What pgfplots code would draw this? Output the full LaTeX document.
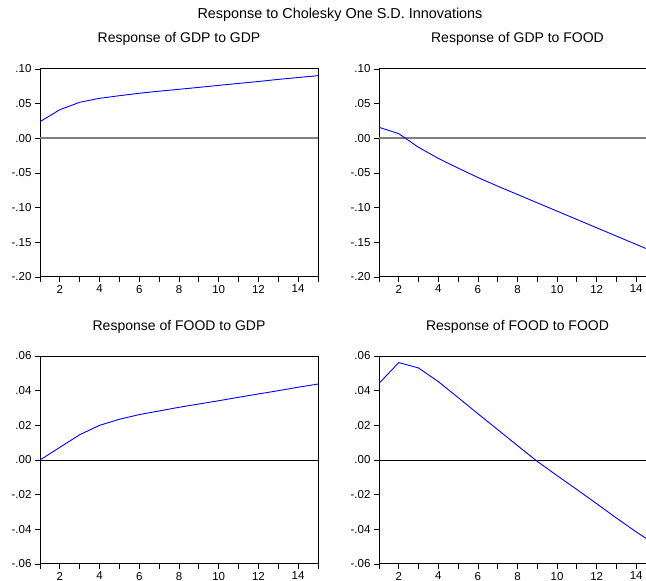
\documentclass[border=0pt]{standalone}
\usepackage{fontspec}
\setmainfont{Liberation Sans}
\usepackage{pgfplots}
\pgfplotsset{compat=1.18}

\definecolor{irfblue}{RGB}{0,0,255}
\definecolor{zerogray}{RGB}{128,128,128}

% common look of the four EViews-style panels
\pgfplotsset{irf/.style={
  scale only axis, width=278pt, height=208pt,
  xmin=1, xmax=15, enlargelimits=false,
  xtick={1,...,15}, xticklabels={,2,,4,,6,,8,,10,,12,,14,},
  scaled y ticks=false,
  tick align=outside, xtick pos=bottom, ytick pos=left,
  major tick length=5pt,
  tick style={black, line width=0.8pt},
  axis line style={black, line width=1pt},
  ticklabel style={font=\fontsize{11.5}{13}\selectfont},
  xticklabel style={yshift=0.5pt},
  title style={at={(0.5,1)}, anchor=base, yshift=20pt,
    font=\fontsize{14}{16}\selectfont},
  clip=true,
}}
\pgfplotsset{gdpy/.style={ymin=-0.2, ymax=0.1,
  ytick={-0.20,-0.15,-0.10,-0.05,0,0.05,0.10},
  yticklabels={-.20,-.15,-.10,-.05,.00,.05,.10}}}
\pgfplotsset{foody/.style={ymin=-0.06, ymax=0.06,
  ytick={-0.06,-0.04,-0.02,0,0.02,0.04,0.06},
  yticklabels={-.06,-.04,-.02,.00,.02,.04,.06}}}

\begin{document}
\begin{tikzpicture}[x=1pt,y=1pt]
\path[use as bounding box] (0,0) rectangle (646,581);
\clip (0,0) rectangle (646,581);

\node[anchor=base, font=\fontsize{14.4}{16}\selectfont] at (340,562)
  {Response to Cholesky One S.D. Innovations};

% GDP to GDP
\begin{axis}[irf, gdpy, at={(40pt,304pt)}, anchor=south west,
  title={Response of GDP to GDP}]
\addplot[zerogray, line width=2pt] coordinates {(1,0) (15,0)};
\addplot[irfblue, line width=0.9pt] coordinates {
  (1,0.0240) (2,0.0413) (3,0.0520) (4,0.0577) (5,0.0615)
  (6,0.0650) (7,0.0680) (8,0.0707) (9,0.0735) (10,0.0764)
  (11,0.0792) (12,0.0820) (13,0.0850) (14,0.0877) (15,0.0904)};
\end{axis}

% GDP to FOOD
\begin{axis}[irf, gdpy, at={(379pt,304pt)}, anchor=south west,
  width=277pt, title={Response of GDP to FOOD}]
\addplot[zerogray, line width=2pt] coordinates {(1,0) (15,0)};
\addplot[irfblue, line width=0.9pt] coordinates {
  (1,0.0159) (2,0.0067) (3,-0.0130) (4,-0.0290) (5,-0.0430)
  (6,-0.0565) (7,-0.0690) (8,-0.0810) (9,-0.0930) (10,-0.1050)
  (11,-0.1170) (12,-0.1290) (13,-0.1410) (14,-0.1530) (15,-0.1650)};
\end{axis}

% FOOD to GDP
\begin{axis}[irf, foody, at={(40pt,17pt)}, anchor=south west,
  title={Response of FOOD to GDP}]
\addplot[black, line width=1pt] coordinates {(1,0) (15,0)};
\addplot[irfblue, line width=0.9pt] coordinates {
  (1,0.0000) (2,0.0073) (3,0.0146) (4,0.0200) (5,0.0235)
  (6,0.0262) (7,0.0283) (8,0.0304) (9,0.0323) (10,0.0342)
  (11,0.0362) (12,0.0381) (13,0.0400) (14,0.0420) (15,0.0438)};
\end{axis}

% FOOD to FOOD
\begin{axis}[irf, foody, at={(379pt,17pt)}, anchor=south west,
  width=277pt, title={Response of FOOD to FOOD}]
\addplot[black, line width=1pt] coordinates {(1,0) (15,0)};
\addplot[irfblue, line width=0.9pt] coordinates {
  (1,0.0442) (2,0.0562) (3,0.0531) (4,0.0452) (5,0.0360)
  (6,0.0267) (7,0.0175) (8,0.0083) (9,-0.0008) (10,-0.0090)
  (11,-0.0170) (12,-0.0252) (13,-0.0335) (14,-0.0415) (15,-0.0490)};
\end{axis}
\end{tikzpicture}
\end{document}
